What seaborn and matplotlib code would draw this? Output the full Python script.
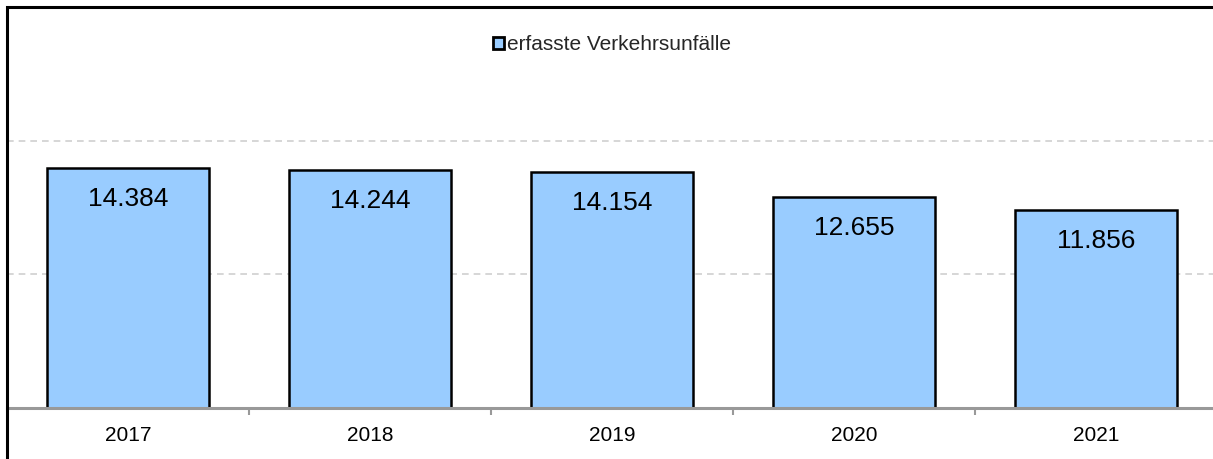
import matplotlib
matplotlib.use("Agg")
import matplotlib.pyplot as plt
import seaborn as sns
import pandas as pd
from matplotlib.patches import Rectangle

years = ["2017", "2018", "2019", "2020", "2021"]
unfaelle = [14384, 14244, 14154, 12655, 11856]
series_name = "erfasste Verkehrsunfälle"

df = pd.DataFrame({"Jahr": years, "Wert": unfaelle, "Serie": series_name})

sns.set_theme(style="white")
plt.rcParams['font.family'] = ['Liberation Sans', 'DejaVu Sans']

W, H = 1213, 459
fig = plt.figure(figsize=(W / 100, H / 100), dpi=100)
left, right, top, bottom = 7, 1217, 7, 408
ax = fig.add_axes([left / W, (H - bottom) / H, (right - left) / W, (bottom - top) / H])

sns.barplot(data=df, x="Jahr", y="Wert", hue="Serie", ax=ax,
            palette=["#99CCFF"], edgecolor="black", linewidth=1.8,
            width=0.667, saturation=1, legend=True)

ax.set_ylim(0, 24000)
ax.set_xlim(-0.5, len(years) - 0.5)
ax.set_yticks([8000, 16000])
ax.yaxis.grid(True, color="#D0D0D0", linestyle=(0, (4, 3)), linewidth=1.2)
ax.set_axisbelow(True)
ax.tick_params(axis="y", left=False, labelleft=False)
ax.set_xlabel("")
ax.set_ylabel("")

# x ticks: labels at centers, tick marks at category boundaries
ax.set_xticks(range(len(years)))
ax.set_xticklabels(years, fontsize=15, color="black")
ax.tick_params(axis="x", which="major", bottom=True, length=0, pad=13)
ax.set_xticks([i + 0.5 for i in range(len(years) - 1)], minor=True)
ax.tick_params(axis="x", which="minor", bottom=True, length=5, width=1.5,
               color="#999999", direction="out")

ax.spines["right"].set_visible(False)
ax.spines["left"].set_visible(False)
ax.spines["top"].set_visible(False)
ax.spines["bottom"].set_color("#999999")
ax.spines["bottom"].set_linewidth(2.2)

for cont in ax.containers:
    labels = [f"{int(v):,}".replace(",", ".") for v in cont.datavalues]
    ax.bar_label(cont, labels=labels, label_type="edge", padding=-31, fontsize=19, color="black")

leg = ax.legend(loc="upper center", bbox_to_anchor=(0.500, 0.961), frameon=False,
                fontsize=15, handlelength=0.5, handleheight=0.5, handletextpad=0.15,
                borderaxespad=0.2)
for h in leg.legend_handles:
    h.set_edgecolor("black")
    h.set_linewidth(2)

# outer chart border
fig.patches.append(Rectangle((left / W, -0.1), 1.2, (H - top) / H + 0.1,
                             transform=fig.transFigure, fill=False,
                             edgecolor="black", linewidth=2.2, zorder=10))

fig.savefig("out.png", dpi=100, facecolor="white")
